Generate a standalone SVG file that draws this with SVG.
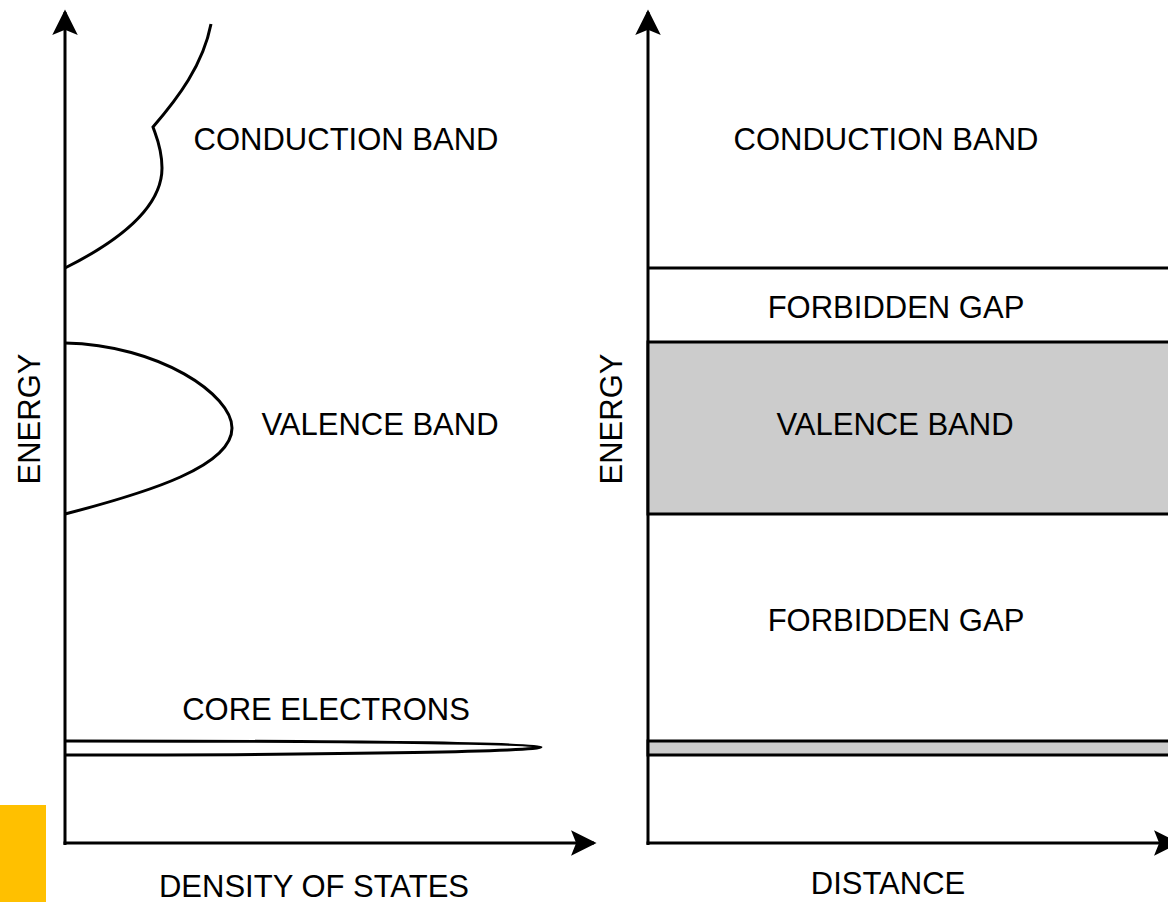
<svg xmlns="http://www.w3.org/2000/svg" width="1168" height="902" viewBox="0 0 1168 902">
<style>
.t{font-family:"Liberation Sans",Arial,sans-serif;font-size:31px;fill:#000;text-anchor:middle}
.ln{fill:none;stroke:#000;stroke-width:3}
.band{fill:#cccccc;stroke:#000;stroke-width:3}
</style>
<defs>
<marker id="ah" viewBox="0 0 10 10" refX="9" refY="5" markerWidth="8.5" markerHeight="8.5" markerUnits="strokeWidth" orient="auto">
<path d="M0,0 L10,5 L0,10 L2,5 Z" fill="#000"/>
</marker>
</defs>
<rect width="1168" height="902" fill="#fff"/>
<rect id="yellow" x="0" y="805" width="46" height="97" fill="#FFC000"/>
<g id="connectors">
<line class="ln" x1="65" y1="845" x2="65" y2="12" marker-end="url(#ah)"/>
<line class="ln" x1="63.5" y1="843" x2="594" y2="843" marker-end="url(#ah)"/>
<line class="ln" x1="648" y1="845" x2="648" y2="12" marker-end="url(#ah)"/>
<line class="ln" x1="646.5" y1="843" x2="1177" y2="843" marker-end="url(#ah)"/>
</g>
<g id="conduction-dos">
<path class="ln" d="M65,268 C125,238 162,205 162,168 C162,148 156,136 153,127 C178,98 203,65 211,24"/>
<text class="t" x="346" y="150">CONDUCTION BAND</text>
</g>
<g id="valence-dos">
<path class="ln" d="M65,343 C160,345 232,395 232,428 C232,466 150,492 65,514"/>
<text class="t" x="380" y="435">VALENCE BAND</text>
</g>
<g id="core-dos">
<path class="ln" d="M65,741 C360,741 541,743 541,747 C541,751 360,755 65,755"/>
<text class="t" x="326" y="720">CORE ELECTRONS</text>
</g>
<g id="left-labels">
<text class="t" x="314" y="897">DENSITY OF STATES</text>
<text class="t" transform="translate(40,419) rotate(-90)">ENERGY</text>
</g>
<g id="conduction-band">
<line class="ln" x1="648" y1="268" x2="1170" y2="268"/>
<text class="t" x="886" y="150">CONDUCTION BAND</text>
</g>
<g id="forbidden-gap-top">
<text class="t" x="896" y="318">FORBIDDEN GAP</text>
</g>
<g id="valence-band">
<rect class="band" x="648" y="342" width="524" height="172"/>
<text class="t" x="895" y="435">VALENCE BAND</text>
</g>
<g id="forbidden-gap-bottom">
<text class="t" x="896" y="631">FORBIDDEN GAP</text>
</g>
<g id="core-band">
<rect class="band" x="648" y="741" width="524" height="14"/>
</g>
<g id="right-labels">
<text class="t" x="888" y="894">DISTANCE</text>
<text class="t" transform="translate(622,419) rotate(-90)">ENERGY</text>
</g>
</svg>
